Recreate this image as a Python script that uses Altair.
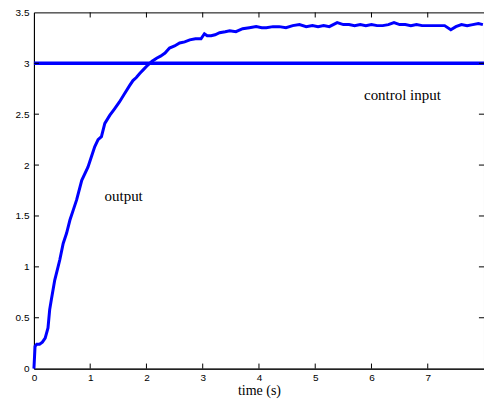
import altair as alt
import pandas as pd

# output response (time in s, value)
t_out = [0, 0.02, 0.05, 0.10, 0.15, 0.20, 0.25, 0.28, 0.31, 0.37, 0.42, 0.46, 0.52, 0.58, 0.64,
         0.70, 0.76, 0.85, 0.96, 1.02, 1.08, 1.14, 1.20, 1.26, 1.35, 1.43, 1.52, 1.61, 1.70,
         1.76, 1.82, 1.88, 1.95, 2.02, 2.10, 2.18, 2.25, 2.33, 2.41, 2.50, 2.59, 2.68, 2.77,
         2.87, 2.97, 3.03, 3.08, 3.15, 3.22, 3.30, 3.40, 3.48, 3.59, 3.71, 3.83, 3.95, 4.05,
         4.13, 4.25, 4.36, 4.48, 4.60, 4.72, 4.84, 4.95, 5.05, 5.15, 5.25, 5.39, 5.50, 5.60,
         5.70, 5.80, 5.90, 6.00, 6.10, 6.20, 6.30, 6.40, 6.50, 6.60, 6.70, 6.80, 6.90, 7.00,
         7.10, 7.20, 7.30, 7.41, 7.50, 7.60, 7.70, 7.80, 7.90, 7.98]
v_out = [0, 0.22, 0.24, 0.24, 0.26, 0.30, 0.40, 0.58, 0.68, 0.87, 0.98, 1.07, 1.23, 1.33, 1.46,
         1.56, 1.66, 1.85, 1.98, 2.08, 2.18, 2.25, 2.28, 2.41, 2.49, 2.55, 2.62, 2.70, 2.78,
         2.83, 2.86, 2.90, 2.94, 2.98, 3.02, 3.05, 3.07, 3.10, 3.15, 3.17, 3.20, 3.21, 3.23,
         3.24, 3.24, 3.29, 3.27, 3.27, 3.28, 3.30, 3.31, 3.32, 3.31, 3.34, 3.35, 3.36, 3.35,
         3.35, 3.36, 3.36, 3.35, 3.37, 3.38, 3.36, 3.37, 3.36, 3.37, 3.36, 3.40, 3.38, 3.38,
         3.37, 3.38, 3.37, 3.38, 3.37, 3.37, 3.38, 3.40, 3.38, 3.38, 3.37, 3.38, 3.37, 3.37,
         3.37, 3.37, 3.37, 3.33, 3.36, 3.38, 3.37, 3.38, 3.39, 3.38]

# control input (constant setpoint)
t_ctrl = [0, 8]
v_ctrl = [3, 3]

x_ticks = [0, 1, 2, 3, 4, 5, 6, 7]
y_ticks = [0, 0.5, 1, 1.5, 2, 2.5, 3, 3.5]

labels = ["output", "control input"]
label_t = [1.595, 6.55]
label_v = [1.70, 2.69]

out_df = pd.DataFrame({"t": t_out, "v": v_out})
ctrl_df = pd.DataFrame({"t": t_ctrl, "v": v_ctrl})
lab_df = pd.DataFrame({"label": labels, "t": label_t, "v": label_v})
xt_df = pd.DataFrame({"t": x_ticks[1:]})
yt_df = pd.DataFrame({"v": y_ticks[1:-1]})

SERIF = "Liberation Serif, Times New Roman, Times, serif"
SANS = "Liberation Sans, Arial, sans-serif"

xs = alt.Scale(domain=[0, 8], nice=False, zero=False)
ys = alt.Scale(domain=[0, 3.5], nice=False, zero=False)

xaxis = alt.Axis(values=x_ticks, ticks=False, grid=False, labelPadding=4, format="d",
                 labelFlush=False, labelOverlap=False,
                 labelFont=SANS, labelFontSize=10, labelColor="black",
                 domainColor="black", title="time (s)", titleFont=SERIF,
                 titleFontSize=14, titleFontWeight="normal", titleColor="black",
                 titleBaseline="alphabetic", titleY=26)
yaxis = alt.Axis(values=y_ticks, ticks=False, grid=False, labelPadding=5, format=".1~f",
                 labelFlush=False, labelOverlap=False,
                 labelFont=SANS, labelFontSize=10, labelColor="black",
                 domainColor="black", title=None)

line_out = alt.Chart(out_df).mark_line(color="#0000ff", strokeWidth=3).encode(
    x=alt.X("t:Q", scale=xs, axis=xaxis),
    y=alt.Y("v:Q", scale=ys, axis=yaxis),
)
line_ctrl = alt.Chart(ctrl_df).mark_line(color="#0000ff", strokeWidth=3.5).encode(
    x=alt.X("t:Q", scale=xs), y=alt.Y("v:Q", scale=ys)
)
text = alt.Chart(lab_df).mark_text(font=SERIF, fontSize=15, color="black",
                                   baseline="middle", align="center").encode(
    x=alt.X("t:Q", scale=xs), y=alt.Y("v:Q", scale=ys), text="label:N"
)

# inward ticks (MATLAB style)
tick_bottom = alt.Chart(xt_df).mark_rule(color="black", strokeWidth=1).encode(
    x=alt.X("t:Q", scale=xs), y=alt.datum(0), y2=alt.datum(0.05))
tick_top = alt.Chart(xt_df).mark_rule(color="black", strokeWidth=1).encode(
    x=alt.X("t:Q", scale=xs), y=alt.datum(3.5), y2=alt.datum(3.45))
tick_left = alt.Chart(yt_df).mark_rule(color="black", strokeWidth=1).encode(
    y=alt.Y("v:Q", scale=ys), x=alt.datum(0), x2=alt.datum(0.09))
tick_right = alt.Chart(yt_df).mark_rule(color="black", strokeWidth=1).encode(
    y=alt.Y("v:Q", scale=ys), x=alt.datum(8), x2=alt.datum(7.91))

chart = alt.layer(line_ctrl, line_out, text, tick_bottom, tick_top, tick_left, tick_right).properties(
    width=451, height=357,
    autosize=alt.AutoSizeParams(type="none"),
    padding={"left": 34, "top": 12, "right": 0, "bottom": 34},
    background="white",
).configure_view(stroke="black", strokeWidth=1)

chart.save("out.html", embed_options={"renderer": "svg", "actions": False})
